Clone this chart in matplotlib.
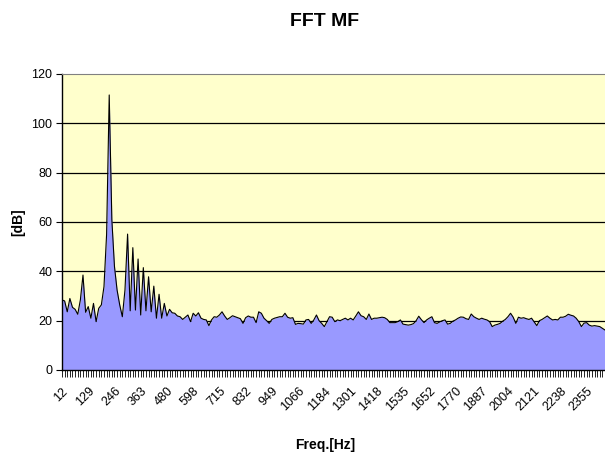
import matplotlib
matplotlib.use("Agg")
import matplotlib.pyplot as plt
import numpy as np

title = "FFT MF"
x_label = "Freq.[Hz]"
y_label = "[dB]"
tick_labels = ["12", "129", "246", "363", "480", "598", "715", "832", "949", "1066",
               "1184", "1301", "1418", "1535", "1652", "1770", "1887", "2004", "2121",
               "2238", "2355"]
label_every = 10
y_ticks = [0, 20, 40, 60, 80, 100, 120]

db_values = [
    28.4, 28.0, 23.6, 29.0, 25.4, 24.6, 22.6, 28.4, 38.5, 23.4,
    25.7, 21.0, 27.0, 19.6, 25.0, 26.4, 33.8, 55.0, 111.5, 61.0,
    42.0, 32.4, 26.4, 21.6, 32.4, 55.1, 24.0, 49.6, 24.3, 45.0,
    22.3, 41.5, 24.0, 37.8, 23.6, 34.0, 21.0, 30.7, 21.0, 27.0,
    21.9, 24.6, 23.2, 23.0, 21.9, 21.6, 20.5, 21.4, 22.3, 19.6,
    23.0, 21.9, 23.2, 21.0, 20.5, 20.3, 18.0, 20.3, 21.6, 21.4,
    22.3, 23.6, 21.9, 20.5, 21.2, 22.0, 21.6, 21.2, 20.8, 18.9,
    21.2, 21.9, 21.4, 21.4, 19.2, 23.6, 23.0, 21.0, 20.0, 18.9,
    20.5, 21.0, 21.3, 21.6, 21.6, 23.0, 21.4, 21.0, 21.2, 18.5,
    18.9, 18.8, 18.6, 20.3, 20.5, 18.9, 20.3, 22.3, 20.0, 18.9,
    17.6, 19.6, 21.6, 21.4, 19.6, 20.3, 20.0, 20.5, 21.0, 20.3,
    21.0, 20.3, 21.9, 23.6, 22.0, 21.6, 20.5, 22.7, 20.5, 21.0,
    21.0, 21.2, 21.4, 21.2, 20.5, 19.2, 19.2, 19.2, 19.6, 20.3,
    18.6, 18.4, 18.2, 18.4, 18.8, 20.0, 21.8, 20.4, 19.2, 20.3,
    21.0, 21.6, 19.2, 18.9, 19.5, 20.0, 20.3, 18.6, 18.9, 19.8,
    20.3, 21.0, 21.5, 21.4, 20.8, 20.5, 22.7, 21.6, 21.0, 20.5,
    21.0, 20.6, 20.3, 19.6, 17.6, 18.2, 18.5, 18.9, 19.8, 20.5,
    21.6, 23.0, 21.4, 18.9, 21.4, 21.0, 21.2, 20.8, 20.5, 21.0,
    19.5, 18.0, 20.0, 20.5, 21.2, 21.9, 21.0, 20.3, 20.5, 20.3,
    21.4, 21.4, 21.8, 22.6, 22.2, 21.9, 21.0, 19.6, 17.6, 19.0,
    19.2, 18.2, 17.8, 18.0, 17.8, 17.6, 16.9, 16.2,
]

plt.rcParams['font.family'] = ['Liberation Sans Narrow', 'Liberation Sans', 'DejaVu Sans']

fig = plt.figure(figsize=(6.05, 4.58), dpi=100)
ax = fig.add_axes([62 / 605, 88 / 458, 543 / 605, 296 / 458])

idx = np.arange(len(db_values))
ax.set_facecolor('#FFFFCC')
for y in y_ticks[1:-1]:
    ax.axhline(y, color='black', lw=0.9, zorder=1)
ax.fill_between(idx, 0, db_values, color='#9999FF', linewidth=0, zorder=2)
ax.plot(idx, db_values, color='black', lw=0.8, zorder=3)

ax.set_xlim(0, len(db_values) - 1)
ax.set_ylim(0, 120)
ax.set_yticks(y_ticks)
ax.set_yticklabels([str(v) for v in y_ticks], fontsize=9)
ax.set_xticks(idx, minor=True)
ax.set_xticks(idx[::label_every][:len(tick_labels)])
ax.set_xticklabels(tick_labels, rotation=45, ha='right', va='top',
                   rotation_mode='anchor', fontsize=9)
ax.tick_params(axis='x', which='both', length=5, width=0.6, direction='out', pad=6)
ax.tick_params(axis='y', length=4, width=0.8, direction='out', pad=3)

ax.spines['right'].set_visible(False)
ax.spines['top'].set_color('#808080')
ax.spines['left'].set_color('black')
ax.spines['bottom'].set_color('black')
ax.spines['left'].set_linewidth(1.0)
ax.spines['bottom'].set_linewidth(1.0)

fig.text(325 / 605, 1 - 22 / 458, title, ha='center', va='center',
         fontsize=14, fontweight='bold')
fig.text(325 / 605, 1 - 445 / 458, x_label, ha='center', va='center',
         fontsize=10, fontweight='bold')
fig.text(18 / 605, 1 - 222 / 458, y_label, ha='center', va='center',
         fontsize=10, fontweight='bold', rotation=90)

fig.savefig("out.png", dpi=100)
